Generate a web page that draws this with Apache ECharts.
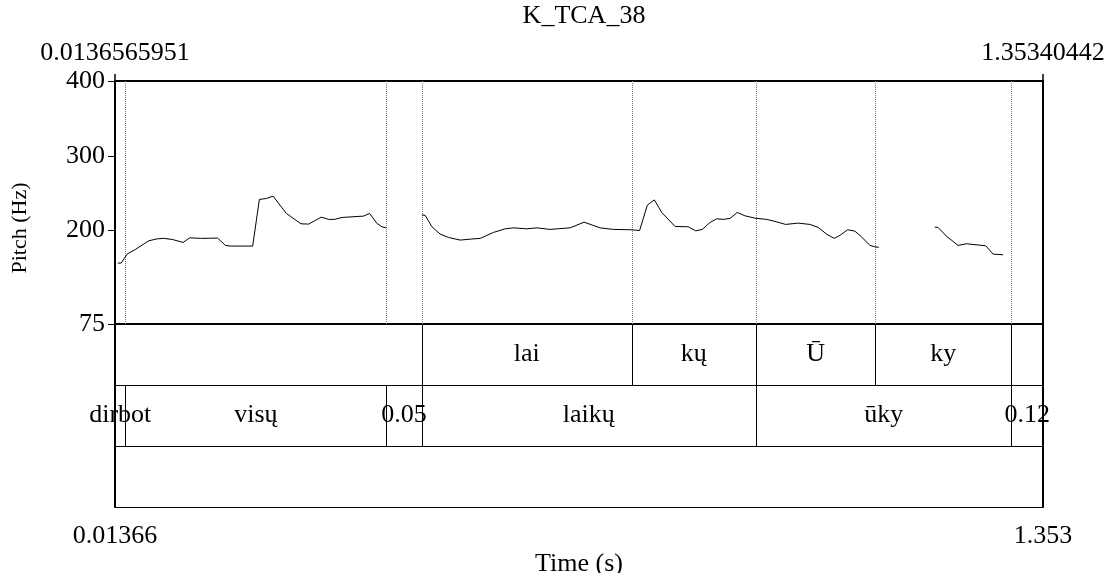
<!DOCTYPE html>
<html>
<head>
<meta charset="utf-8">
<script src="https://cdn.jsdelivr.net/npm/echarts@6/dist/echarts.min.js"></script>
<style>
  html, body { margin: 0; padding: 0; background: #fff; }
  #chart { width: 1109px; height: 573px; }
</style>
</head>
<body>
<div id="chart"></div>
<script>
// time window of the picture (s)
const xMin = 0.0136565951;
const xMax = 1.35340442;

// pitch track; null = unvoiced gap
const pitchTime = [
  0.0177, 0.0226, 0.0312, 0.0432, 0.0624, 0.0745, 0.0840, 0.0962, 0.1120, 0.1215,
  0.1370, 0.1619, 0.1730, 0.1803, 0.2124, 0.2221, 0.2322, 0.2419, 0.2610, 0.2822,
  0.2932, 0.3115, 0.3221, 0.3303, 0.3414, 0.3725, 0.3812, 0.3919, 0.3991, 0.4053,
  0.4300,
  0.4568, 0.4615, 0.4712, 0.4832, 0.4951, 0.5120, 0.5264, 0.5409, 0.5601, 0.5769,
  0.5889, 0.6082, 0.6227, 0.6418, 0.6707, 0.6909, 0.7140, 0.7331, 0.7597, 0.7710,
  0.7822, 0.7923, 0.8030, 0.8221, 0.8413, 0.8520, 0.8615, 0.8727, 0.8823, 0.8918,
  0.9015, 0.9120, 0.9231, 0.9375, 0.9544, 0.9664, 0.9818, 1.0000, 1.0169, 1.0289,
  1.0410, 1.0519, 1.0602, 1.0713, 1.0818, 1.0914, 1.1034, 1.1106, 1.1164,
  1.1500,
  1.1972, 1.2019, 1.2140, 1.2308, 1.2429, 1.2707, 1.2813, 1.2957
];
const pitchHz = [
  156.5, 156.5, 168.5, 174.8, 186.3, 188.9, 189.5, 188.1, 184.1, 190.3,
  189.5, 189.9, 180.1, 179.2, 179.2, 241.6, 242.9, 246.0, 222.9, 209.0,
  208.6, 217.9, 214.9, 214.9, 217.5, 219.3, 222.9, 209.5, 205.0, 203.6,
  null,
  221.0, 220.2, 205.0, 195.2, 190.8, 187.2, 188.5, 189.5, 197.5, 202.3,
  203.6, 202.3, 203.6, 201.5, 203.6, 211.2, 203.6, 201.5, 201.0, 200.0,
  234.0, 241.0, 224.2, 205.5, 205.0, 199.6, 201.5, 210.8, 215.7, 214.9,
  216.2, 224.2, 219.7, 216.6, 214.9, 212.2, 208.2, 209.9, 208.2, 204.2,
  195.2, 189.5, 193.5, 201.0, 199.2, 191.6, 180.1, 178.3, 177.5,
  null,
  204.6, 204.2, 192.5, 180.1, 182.3, 179.6, 168.5, 167.6
];

// text grid tiers: interval boundaries and texts
const tier1Bounds = [0.4565, 0.7594, 0.9390, 1.1113, 1.3078];
const tier1Texts = ['', 'lai', 'kų', 'Ū', 'ky', ''];
const tier2Bounds = [0.0288, 0.4053, 0.4565, 0.9390, 1.3078];
const tier2Texts = ['dirbot', 'visų', '0.05', 'laikų', 'ūky', '0.12'];

const yTicks = [75, 200, 300, 400];

const FONT = 'Liberation Serif';
const FS = 26;

function buildTier(bounds, texts, row) {
  const edges = [xMin].concat(bounds, [xMax]);
  return texts.map((t, i) => [edges[i], edges[i + 1], row, t]);
}
const tierData = buildTier(tier1Bounds, tier1Texts, 0).concat(buildTier(tier2Bounds, tier2Texts, 1));
const allBounds = Array.from(new Set(tier1Bounds.concat(tier2Bounds))).sort((a, b) => a - b);

const pitchData = pitchTime.map((t, i) => [t, pitchHz[i] === null ? '-' : pitchHz[i]]);

const chart = echarts.init(document.getElementById('chart'));

const G_LEFT = 115, G_RIGHT = 1109 - 1043, G_TOP = 81;
const PITCH_H = 243, TIER_H = 183;

const option = {
  animation: false,
  backgroundColor: '#fff',
  textStyle: { fontFamily: FONT, color: '#000' },
  title: {
    text: 'K_TCA_38',
    left: 579,
    top: -2,
    textAlign: 'center',
    textStyle: { fontFamily: FONT, fontSize: FS, fontWeight: 'normal', color: '#000' }
  },
  grid: [
    { left: G_LEFT, right: G_RIGHT, top: G_TOP, height: PITCH_H, outerBoundsMode: 'none', containLabel: false },
    { left: G_LEFT, right: G_RIGHT, top: G_TOP + PITCH_H, height: TIER_H, outerBoundsMode: 'none', containLabel: false }
  ],
  xAxis: [
    {
      gridIndex: 0, type: 'value', position: 'top', min: xMin, max: xMax,
      axisLine: { lineStyle: { color: '#000', width: 2 } },
      axisTick: { show: true, inside: false, length: 7, customValues: [xMin, xMax], lineStyle: { color: '#000', width: 1.5 } },
      axisLabel: {
        customValues: [xMin, xMax], margin: 15, color: '#000',
        fontFamily: FONT, fontSize: FS, formatter: v => String(v)
      },
      splitLine: { show: false }
    },
    {
      gridIndex: 1, type: 'value', position: 'bottom', min: xMin, max: xMax,
      name: 'Time (s)', nameLocation: 'middle', nameGap: 44,
      nameTextStyle: { fontFamily: FONT, fontSize: FS, color: '#000' },
      axisLine: { lineStyle: { color: '#000', width: 2 } },
      axisTick: { show: true, inside: false, length: 7, customValues: [xMin, xMax], lineStyle: { color: '#000', width: 1.5 } },
      axisLabel: {
        customValues: [xMin, xMax], margin: 16, color: '#000',
        fontFamily: FONT, fontSize: FS, formatter: v => v.toPrecision(4)
      },
      splitLine: { show: false }
    }
  ],
  yAxis: [
    {
      gridIndex: 0, type: 'value', min: 75, max: 400,
      name: 'Pitch (Hz)', nameLocation: 'middle', nameGap: 84, nameRotate: 90,
      nameTextStyle: { fontFamily: FONT, fontSize: 22, color: '#000', padding: [0, 51, 0, 0] },
      axisLine: { show: true, lineStyle: { color: '#000', width: 2 } },
      axisTick: { show: true, inside: false, length: 7, customValues: yTicks, lineStyle: { color: '#000' } },
      axisLabel: { customValues: yTicks, margin: 10, color: '#000', fontFamily: FONT, fontSize: FS },
      splitLine: { show: false }
    },
    {
      gridIndex: 1, type: 'value', min: 0, max: 3, interval: 1, inverse: true,
      axisLine: { show: true, lineStyle: { color: '#000', width: 2 } },
      axisTick: { show: false },
      axisLabel: { show: false },
      splitLine: { show: true, lineStyle: { color: '#000', width: 1 } }
    },
    {
      gridIndex: 0, type: 'value', position: 'right', min: 75, max: 400,
      axisLine: { show: true, lineStyle: { color: '#000', width: 2 } },
      axisTick: { show: false }, axisLabel: { show: false }, splitLine: { show: false }
    },
    {
      gridIndex: 1, type: 'value', position: 'right', min: 0, max: 3,
      axisLine: { show: true, lineStyle: { color: '#000', width: 2 } },
      axisTick: { show: false }, axisLabel: { show: false }, splitLine: { show: false }
    }
  ],
  series: [
    {
      // dotted boundary lines through the pitch area
      type: 'custom',
      xAxisIndex: 0, yAxisIndex: 0,
      data: allBounds.map(t => [t]),
      renderItem: (params, api) => {
        const top = api.coord([api.value(0), 400]);
        const bot = api.coord([api.value(0), 75]);
        const x = Math.round(top[0]) + 0.5;
        return {
          type: 'line',
          shape: { x1: x, y1: top[1], x2: x, y2: bot[1] },
          style: { stroke: '#777', lineWidth: 1, lineDash: [1, 1] }
        };
      }
    },
    {
      type: 'line',
      xAxisIndex: 0, yAxisIndex: 0,
      data: pitchData,
      showSymbol: false,
      connectNulls: false,
      lineStyle: { color: '#000', width: 1 }
    },
    {
      type: 'custom',
      xAxisIndex: 1, yAxisIndex: 1,
      clip: false,
      data: tierData.map(d => [d[0], d[1], d[2]]),
      renderItem: (params, api) => {
        const s = api.value(0), e = api.value(1), row = api.value(2);
        const p0 = api.coord([s, row]);
        const p1 = api.coord([e, row + 1]);
        const children = [{
          type: 'text',
          style: {
            x: (p0[0] + p1[0]) / 2, y: (p0[1] + p1[1]) / 2,
            text: tierData[params.dataIndex][3],
            fill: '#000', font: FS + 'px "' + FONT + '"',
            align: 'center', verticalAlign: 'middle'
          }
        }];
        if (s > xMin) {
          const x = Math.round(p0[0]) + 0.5;
          children.push({
            type: 'line',
            shape: { x1: x, y1: p0[1], x2: x, y2: p1[1] },
            style: { stroke: '#000', lineWidth: 1 }
          });
        }
        return { type: 'group', children: children };
      }
    }
  ]
};

chart.setOption(option);
</script>
</body>
</html>
